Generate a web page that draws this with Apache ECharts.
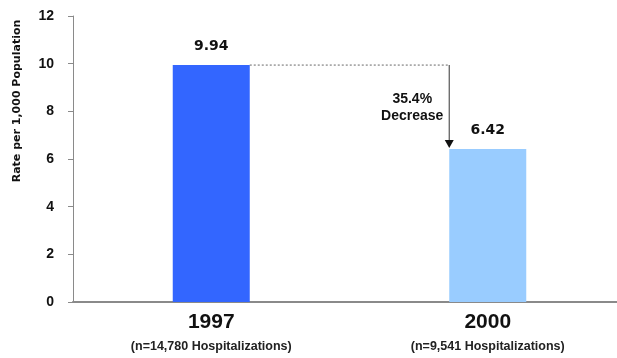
<!DOCTYPE html>
<html>
<head>
<meta charset="utf-8">
<style>
  html, body { margin: 0; padding: 0; background: #fff; }
  #chart { width: 617px; height: 358px; }
</style>
<script src="https://cdn.jsdelivr.net/npm/echarts@6/dist/echarts.min.js"></script>
</head>
<body>
<div id="chart"></div>
<script>
// Hospitalization rates, 1997 vs 2000
const years = ['1997', '2000'];
const counts = ['(n=14,780 Hospitalizations)', '(n=9,541 Hospitalizations)'];
const rates = [9.94, 6.42];
const barColors = ['#3366ff', '#99ccff'];
const yTicks = { min: 0, max: 12, interval: 2 };
const axisTitle = 'Rate per 1,000 Population';

const BAR_W = 77;
const chart = echarts.init(document.getElementById('chart'), null, { renderer: 'canvas' });

const option = {
  animation: false,
  backgroundColor: '#fff',
  grid: { left: 73, right: -9, top: 16, bottom: 56, containLabel: false, outerBoundsMode: 'none' },
  xAxis: {
    type: 'category',
    data: years,
    axisLine: { lineStyle: { color: '#8a8a8a', width: 2 } },
    axisTick: { show: false },
    axisLabel: {
      margin: 6,
      formatter: (v, i) => '{y|' + v + '}\n{n|' + counts[i] + '}',
      rich: {
        y: { fontFamily: 'Arial, Liberation Sans', fontWeight: 'bold', fontSize: 21, color: '#111', lineHeight: 28 },
        n: { fontFamily: 'Arial, Liberation Sans', fontWeight: 'bold', fontSize: 12.5, color: '#222', lineHeight: 22 }
      }
    }
  },
  yAxis: {
    type: 'value',
    min: yTicks.min,
    max: yTicks.max,
    interval: yTicks.interval,
    splitLine: { show: false },
    axisLine: { show: true, lineStyle: { color: '#8a8a8a', width: 1 } },
    axisTick: { show: true, length: 5, lineStyle: { color: '#8a8a8a' } },
    axisLabel: {
      margin: 19,
      fontFamily: 'Arial, Liberation Sans',
      fontWeight: 'bold',
      fontSize: 14,
      color: '#111'
    }
  },
  series: [{
    type: 'bar',
    barWidth: BAR_W,
    data: rates.map((v, i) => ({ value: v, itemStyle: { color: barColors[i] } })),
    label: {
      show: true,
      position: 'top',
      distance: 12,
      fontFamily: 'DejaVu Sans',
      fontWeight: 'bold',
      fontSize: 14,
      color: '#111',
      formatter: p => p.value.toFixed(2)
    }
  }]
};
chart.setOption(option);

// Annotation: dotted level from the 1997 bar to the 2000 bar, with a drop arrow
const p0 = chart.convertToPixel({ gridIndex: 0 }, [0, rates[0]]);
const p1 = chart.convertToPixel({ gridIndex: 0 }, [1, rates[1]]);
const startX = p0[0] + BAR_W / 2;
const arrowX = p1[0] - BAR_W / 2;
const topY = p0[1];
const tipY = p1[1];
const pct = ((rates[0] - rates[1]) / rates[0] * 100).toFixed(1) + '%';

chart.setOption({
  graphic: [
    {
      type: 'line',
      shape: { x1: startX, y1: topY, x2: arrowX, y2: topY },
      style: { stroke: '#9a9a9a', lineWidth: 1.5, lineDash: [2, 2] }
    },
    {
      type: 'line',
      shape: { x1: arrowX, y1: topY, x2: arrowX, y2: tipY - 7 },
      style: { stroke: '#555', lineWidth: 1.2 }
    },
    {
      type: 'polygon',
      shape: { points: [[arrowX - 4.5, tipY - 9], [arrowX + 4.5, tipY - 9], [arrowX, tipY - 1]] },
      style: { fill: '#111' }
    },
    {
      type: 'text',
      x: arrowX - 37,
      y: (topY + tipY) / 2 + 1,
      style: {
        text: pct + '\nDecrease',
        fontFamily: 'Arial, Liberation Sans',
        fontWeight: 'bold',
        fontSize: 14,
        lineHeight: 17,
        fill: '#111',
        align: 'center',
        verticalAlign: 'middle'
      }
    },
    {
      type: 'text',
      x: 17,
      y: 101,
      rotation: Math.PI / 2,
      style: {
        text: axisTitle,
        fontFamily: 'DejaVu Sans',
        fontWeight: 'bold',
        fontSize: 11,
        fill: '#111',
        align: 'center',
        verticalAlign: 'middle'
      }
    }
  ]
});
</script>
</body>
</html>
